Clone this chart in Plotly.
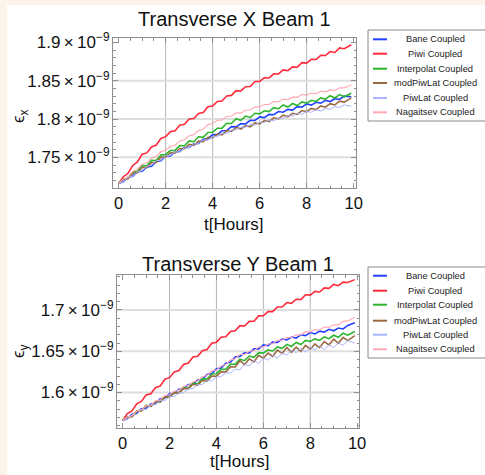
import plotly.graph_objects as go

W, H = 485, 475

hours = [0.0, 0.2, 0.4, 0.6, 0.8, 1.0, 1.2, 1.4, 1.6, 1.8,
         2.0, 2.2, 2.4, 2.6, 2.8, 3.0, 3.2, 3.4, 3.6, 3.8,
         4.0, 4.2, 4.4, 4.6, 4.8, 5.0, 5.2, 5.4, 5.6, 5.8,
         6.0, 6.2, 6.4, 6.6, 6.8, 7.0, 7.2, 7.4, 7.6, 7.8,
         8.0, 8.2, 8.4, 8.6, 8.8, 9.0, 9.2, 9.4, 9.6, 9.9]

series_names = ["Bane Coupled", "Piwi Coupled", "Interpolat Coupled",
                "modPiwLat Coupled", "PiwLat Coupled", "Nagaitsev Coupled"]

# emittance values in units of 1e-9
bane_x = [1.7160, 1.7184, 1.7242, 1.7254, 1.7312, 1.7318, 1.7374, 1.7383, 1.7445, 1.7457,
          1.7517, 1.7518, 1.7570, 1.7576, 1.7628, 1.7628, 1.7678, 1.7681, 1.7737, 1.7743,
          1.7797, 1.7796, 1.7846, 1.7850, 1.7900, 1.7898, 1.7940, 1.7935, 1.7983, 1.7981,
          1.8027, 1.8018, 1.8060, 1.8056, 1.8098, 1.8088, 1.8126, 1.8117, 1.8161, 1.8155,
          1.8197, 1.8182, 1.8218, 1.8208, 1.8244, 1.8228, 1.8265, 1.8255, 1.8298, 1.8291]
piwi_x = [1.7160, 1.7247, 1.7292, 1.7394, 1.7440, 1.7540, 1.7558, 1.7636, 1.7660, 1.7747,
          1.7770, 1.7835, 1.7848, 1.7918, 1.7932, 1.8000, 1.8006, 1.8072, 1.8084, 1.8159,
          1.8170, 1.8229, 1.8236, 1.8300, 1.8308, 1.8370, 1.8366, 1.8422, 1.8424, 1.8489,
          1.8490, 1.8539, 1.8536, 1.8590, 1.8588, 1.8640, 1.8630, 1.8680, 1.8676, 1.8735,
          1.8730, 1.8779, 1.8776, 1.8830, 1.8828, 1.8880, 1.8868, 1.8927, 1.8917, 1.8968]
interp_x = [1.7160, 1.7214, 1.7229, 1.7306, 1.7318, 1.7394, 1.7390, 1.7460, 1.7458, 1.7529,
            1.7538, 1.7590, 1.7591, 1.7654, 1.7652, 1.7714, 1.7704, 1.7768, 1.7760, 1.7825,
            1.7828, 1.7880, 1.7881, 1.7944, 1.7942, 1.8004, 1.7984, 1.8038, 1.8020, 1.8075,
            1.8068, 1.8108, 1.8097, 1.8148, 1.8134, 1.8184, 1.8156, 1.8202, 1.8176, 1.8223,
            1.8208, 1.8244, 1.8229, 1.8276, 1.8258, 1.8304, 1.8274, 1.8318, 1.8290, 1.8335]
modpiw_x = [1.7160, 1.7212, 1.7220, 1.7292, 1.7300, 1.7370, 1.7367, 1.7431, 1.7433, 1.7502,
            1.7506, 1.7560, 1.7556, 1.7616, 1.7612, 1.7670, 1.7657, 1.7711, 1.7703, 1.7762,
            1.7756, 1.7804, 1.7794, 1.7848, 1.7838, 1.7890, 1.7869, 1.7915, 1.7899, 1.7950,
            1.7936, 1.7980, 1.7966, 1.8016, 1.8002, 1.8050, 1.8029, 1.8075, 1.8059, 1.8110,
            1.8096, 1.8138, 1.8122, 1.8170, 1.8154, 1.8200, 1.8183, 1.8233, 1.8221, 1.8276]
piwlat_x = [1.7160, 1.7184, 1.7242, 1.7252, 1.7312, 1.7327, 1.7385, 1.7399, 1.7456, 1.7461,
            1.7520, 1.7524, 1.7572, 1.7572, 1.7622, 1.7627, 1.7675, 1.7679, 1.7726, 1.7721,
            1.7770, 1.7770, 1.7814, 1.7810, 1.7856, 1.7857, 1.7897, 1.7893, 1.7932, 1.7919,
            1.7960, 1.7952, 1.7988, 1.7976, 1.8014, 1.8007, 1.8045, 1.8039, 1.8076, 1.8061,
            1.8100, 1.8088, 1.8120, 1.8104, 1.8138, 1.8127, 1.8161, 1.8151, 1.8184, 1.8165]
naga_x = [1.7160, 1.7216, 1.7246, 1.7316, 1.7346, 1.7410, 1.7428, 1.7487, 1.7511, 1.7573,
          1.7592, 1.7642, 1.7658, 1.7714, 1.7730, 1.7780, 1.7794, 1.7849, 1.7869, 1.7927,
          1.7942, 1.7982, 1.7988, 1.8034, 1.8040, 1.8080, 1.8077, 1.8115, 1.8118, 1.8159,
          1.8157, 1.8190, 1.8189, 1.8228, 1.8227, 1.8260, 1.8252, 1.8285, 1.8283, 1.8319,
          1.8312, 1.8338, 1.8330, 1.8362, 1.8354, 1.8380, 1.8373, 1.8407, 1.8406, 1.8446]

bane_y = [1.5660, 1.5682, 1.5738, 1.5748, 1.5804, 1.5808, 1.5860, 1.5865, 1.5923, 1.5931,
          1.5987, 1.5988, 1.6040, 1.6046, 1.6098, 1.6098, 1.6152, 1.6159, 1.6219, 1.6229,
          1.6287, 1.6296, 1.6356, 1.6370, 1.6430, 1.6438, 1.6482, 1.6479, 1.6529, 1.6529,
          1.6577, 1.6568, 1.6610, 1.6606, 1.6648, 1.6638, 1.6672, 1.6659, 1.6699, 1.6689,
          1.6727, 1.6710, 1.6744, 1.6732, 1.6766, 1.6748, 1.6782, 1.6770, 1.6813, 1.6845]
piwi_y = [1.5660, 1.5745, 1.5778, 1.5863, 1.5892, 1.5970, 1.5984, 1.6058, 1.6078, 1.6161,
          1.6180, 1.6249, 1.6266, 1.6340, 1.6358, 1.6430, 1.6438, 1.6506, 1.6520, 1.6597,
          1.6610, 1.6669, 1.6676, 1.6740, 1.6748, 1.6810, 1.6806, 1.6862, 1.6864, 1.6929,
          1.6930, 1.6981, 1.6980, 1.7036, 1.7036, 1.7090, 1.7080, 1.7130, 1.7126, 1.7185,
          1.7180, 1.7225, 1.7218, 1.7268, 1.7262, 1.7310, 1.7294, 1.7337, 1.7333, 1.7368]
interp_y = [1.5660, 1.5704, 1.5709, 1.5776, 1.5778, 1.5844, 1.5832, 1.5894, 1.5884, 1.5947,
            1.5948, 1.5998, 1.5997, 1.6058, 1.6054, 1.6114, 1.6104, 1.6168, 1.6160, 1.6225,
            1.6228, 1.6280, 1.6281, 1.6344, 1.6342, 1.6404, 1.6386, 1.6442, 1.6426, 1.6483,
            1.6478, 1.6516, 1.6503, 1.6552, 1.6536, 1.6584, 1.6558, 1.6606, 1.6582, 1.6631,
            1.6618, 1.6650, 1.6631, 1.6674, 1.6652, 1.6694, 1.6669, 1.6718, 1.6695, 1.6740]
modpiw_y = [1.5660, 1.5706, 1.5708, 1.5774, 1.5776, 1.5840, 1.5831, 1.5889, 1.5885, 1.5948,
            1.5946, 1.5998, 1.5992, 1.6050, 1.6044, 1.6100, 1.6089, 1.6145, 1.6139, 1.6200,
            1.6196, 1.6252, 1.6250, 1.6312, 1.6310, 1.6386, 1.6337, 1.6409, 1.6370, 1.6451,
            1.6415, 1.6479, 1.6439, 1.6514, 1.6474, 1.6546, 1.6487, 1.6549, 1.6500, 1.6571,
            1.6525, 1.6587, 1.6545, 1.6618, 1.6576, 1.6646, 1.6597, 1.6668, 1.6629, 1.6690]
piwlat_y = [1.5660, 1.5678, 1.5730, 1.5734, 1.5788, 1.5797, 1.5847, 1.5853, 1.5902, 1.5899,
            1.5950, 1.5952, 1.5998, 1.5996, 1.6044, 1.6047, 1.6095, 1.6099, 1.6146, 1.6141,
            1.6190, 1.6192, 1.6238, 1.6236, 1.6284, 1.6274, 1.6342, 1.6322, 1.6388, 1.6350,
            1.6420, 1.6392, 1.6452, 1.6416, 1.6480, 1.6454, 1.6512, 1.6482, 1.6538, 1.6490,
            1.6550, 1.6514, 1.6566, 1.6522, 1.6578, 1.6544, 1.6602, 1.6572, 1.6628, 1.6600]
naga_y = [1.5660, 1.5702, 1.5718, 1.5774, 1.5790, 1.5840, 1.5848, 1.5897, 1.5911, 1.5963,
          1.5972, 1.6016, 1.6026, 1.6076, 1.6086, 1.6130, 1.6140, 1.6191, 1.6207, 1.6261,
          1.6272, 1.6322, 1.6338, 1.6394, 1.6410, 1.6460, 1.6460, 1.6501, 1.6507, 1.6551,
          1.6552, 1.6588, 1.6590, 1.6632, 1.6634, 1.6670, 1.6664, 1.6699, 1.6699, 1.6737,
          1.6732, 1.6762, 1.6758, 1.6794, 1.6790, 1.6820, 1.6820, 1.6862, 1.6868, 1.6913]

UNIT = 1e-9
x_ticks = [0, 2, 4, 6, 8, 10]
x_grid = [2, 4, 6, 8]
yx_ticks = [1.75, 1.80, 1.85, 1.90]
yx_labels = ["1.75", "1.8", "1.85", "1.9"]
yx_grid = [1.75, 1.80, 1.85]
yy_ticks = [1.60, 1.65, 1.70]
yy_labels = ["1.6", "1.65", "1.7"]
yy_grid = [1.60, 1.65, 1.70]

colors = ["#2342ff", "#ff2a3a", "#2db52d", "#9a6a40", "#aab4ff", "#ffa8b2"]
widths = [1.6, 1.6, 1.6, 1.6, 1.0, 1.1]

top_series = [bane_x, piwi_x, interp_x, modpiw_x, piwlat_x, naga_x]
bot_series = [bane_y, piwi_y, interp_y, modpiw_y, piwlat_y, naga_y]

FONT = "Liberation Sans, Arial, sans-serif"

fig = go.Figure()
for name, vals, c, w in zip(series_names, top_series, colors, widths):
    fig.add_trace(go.Scatter(x=hours, y=[v * UNIT for v in vals], mode="lines", name=name,
                             line=dict(color=c, width=w), xaxis="x", yaxis="y", showlegend=False))
for name, vals, c, w in zip(series_names, bot_series, colors, widths):
    fig.add_trace(go.Scatter(x=hours, y=[v * UNIT for v in vals], mode="lines", name=name,
                             line=dict(color=c, width=w), xaxis="x2", yaxis="y2", showlegend=False))


def px(xp):
    return xp / W


def py(yp):
    return 1 - yp / H


def sci(lbl):
    return f"{lbl}\u2009×\u200910<sup>−9</sup>"


frame = "#8f8f8f"
common_x = dict(tickvals=x_ticks, ticktext=[str(v) for v in x_ticks], showgrid=False,
                zeroline=False, ticks="inside", ticklen=5, tickcolor=frame, showline=True,
                linecolor=frame, linewidth=1, mirror="allticks",
                tickfont=dict(family=FONT, size=16.5, color="#111"),
                minor=dict(dtick=0.5, tick0=0, ticks="inside", ticklen=2.5, tickcolor=frame, showgrid=False))
common_y = dict(showgrid=False, zeroline=False, ticks="inside", ticklen=5, tickcolor=frame,
                showline=True, linecolor=frame, linewidth=1, mirror="allticks",
                ticklabelstandoff=-1,
                tickfont=dict(family=FONT, size=17, color="#111"),
                minor=dict(dtick=0.01 * UNIT, tick0=1.6 * UNIT, ticks="inside", ticklen=2.5,
                           tickcolor=frame, showgrid=False))

fig.update_layout(
    width=W, height=H,
    margin=dict(l=0, r=0, t=0, b=0, autoexpand=False),
    paper_bgcolor="white", plot_bgcolor="white",
    xaxis=dict(domain=[px(113), px(356)], range=[-0.24, 10.1], anchor="y", **common_x),
    yaxis=dict(domain=[py(188), py(38)], range=[1.710 * UNIT, 1.9057 * UNIT], anchor="x",
               tickvals=[v * UNIT for v in yx_ticks], ticktext=[sci(l) for l in yx_labels], **common_y),
    xaxis2=dict(domain=[px(117), px(359)], range=[-0.24, 10.08], anchor="y2", **common_x),
    yaxis2=dict(domain=[py(428), py(275)], range=[1.557 * UNIT, 1.7424 * UNIT], anchor="x2",
                tickvals=[v * UNIT for v in yy_ticks], ticktext=[sci(l) for l in yy_labels], **common_y),
)

beige = "#fcf3ea"
shapes = [dict(type="rect", xref="paper", yref="paper", x0=0, x1=px(7), y0=0, y1=1,
               fillcolor=beige, line=dict(width=0), layer="below"),
          dict(type="rect", xref="paper", yref="paper", x0=0, x1=1, y0=py(5), y1=1,
               fillcolor=beige, line=dict(width=0), layer="below")]
for xa, ya in (("x", "y"), ("x2", "y2")):
    for g in x_grid:
        shapes.append(dict(type="line", xref=xa, yref=ya + " domain", x0=g, x1=g, y0=0, y1=1,
                           line=dict(color="#b5b5b5", width=1), layer="below"))
for g in yx_grid:
    shapes.append(dict(type="line", xref="x domain", yref="y", x0=0, x1=1, y0=g * UNIT, y1=g * UNIT,
                       line=dict(color="#dedede", width=2), layer="below"))
for g in yy_grid:
    shapes.append(dict(type="line", xref="x2 domain", yref="y2", x0=0, x1=1, y0=g * UNIT, y1=g * UNIT,
                       line=dict(color="#dedede", width=2), layer="below"))


def label(text, xp, yp, size, angle=0, color="#111"):
    return dict(text=text, x=px(xp), y=py(yp), xref="paper", yref="paper", xanchor="center",
                yanchor="middle", showarrow=False, textangle=angle,
                font=dict(family=FONT, size=size, color=color))


annotations = [
    label("Transverse X Beam 1", 234, 19, 20),
    label("Transverse Y Beam 1", 238, 264, 20),
    label("t[Hours]", 234, 225, 17),
    label("t[Hours]", 240, 461, 17),
    label("ϵ<sub>x</sub>", 20, 116, 17, -90),
    label("ϵ<sub>y</sub>", 20, 351, 17, -90),
]

legend_boxes = [(30, 121, [39.3, 53.7, 68.7, 83.0, 98.0, 112.3]),
                (267, 358, [275.7, 290.7, 304.7, 320.7, 334.7, 349.3])]
for top, bot, rows in legend_boxes:
    shapes.append(dict(type="rect", xref="paper", yref="paper", x0=px(368), x1=px(500), y0=py(bot), y1=py(top),
                       fillcolor="white", line=dict(color="#8a8a8a", width=1), layer="above"))
    for yc, name, c in zip(rows, series_names, colors):
        shapes.append(dict(type="line", xref="paper", yref="paper", x0=px(373), x1=px(387), y0=py(yc), y1=py(yc),
                           line=dict(color=c, width=2), layer="above"))
        annotations.append(label(name, 435, yc, 9.3, color="#222"))

fig.update_layout(shapes=shapes, annotations=annotations)
fig.write_html("out.html", config={"displayModeBar": False},
               post_script="document.body.style.margin='0';document.body.style.overflow='hidden';")
